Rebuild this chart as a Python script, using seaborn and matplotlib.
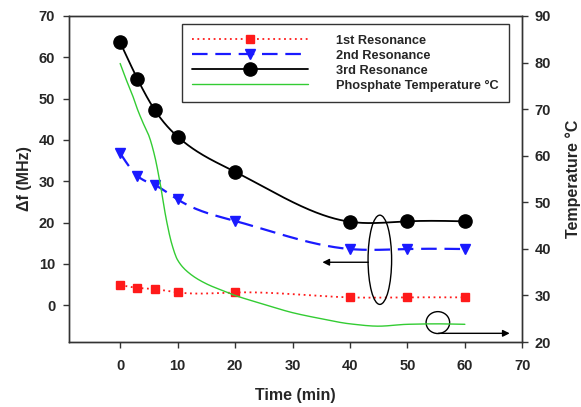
import numpy as np
import pandas as pd
import matplotlib
matplotlib.use("Agg")
import matplotlib.pyplot as plt
from matplotlib.lines import Line2D
from matplotlib.patches import Ellipse
import seaborn as sns

# Sampling times (min) and frequency shifts (MHz)
time_min = [0, 3, 6, 10, 20, 40, 50, 60]
res1 = [4.9, 4.2, 3.9, 3.1, 3.1, 1.9, 1.9, 1.9]
res2 = [36.8, 31.3, 29.1, 25.6, 20.4, 13.6, 13.6, 13.6]
res3 = [63.6, 54.8, 47.3, 40.8, 32.3, 20.2, 20.3, 20.3]

# Phosphate bath temperature log (min, °C)
temp_time = [0, 1, 2, 3, 4, 5, 6, 7, 8, 9, 10, 12, 15, 17.5, 20, 25, 30, 35, 40, 45, 50, 55, 60]
temp_c = [79.8, 76.5, 73.5, 70.0, 67.0, 64.3, 60.0, 53.8, 46.5, 41.0, 37.6, 34.8, 32.5,
          31.2, 30.0, 28.1, 26.3, 25.0, 23.9, 23.4, 23.8, 23.9, 23.8]

labels = ["1st Resonance", "2nd Resonance", "3rd Resonance", "Phosphate Temperature °C"]
x_ticks = [0, 10, 20, 30, 40, 50, 60, 70]
y_ticks = [0, 10, 20, 30, 40, 50, 60, 70]
t_ticks = [20, 30, 40, 50, 60, 70, 80, 90]


def natural_spline(x, y, n=300):
    """Smooth curve through (x, y) using a natural cubic spline."""
    x = np.asarray(x, float)
    y = np.asarray(y, float)
    k = len(x)
    h = np.diff(x)
    A = np.zeros((k, k))
    b = np.zeros(k)
    A[0, 0] = A[-1, -1] = 1.0
    for i in range(1, k - 1):
        A[i, i - 1] = h[i - 1]
        A[i, i] = 2 * (h[i - 1] + h[i])
        A[i, i + 1] = h[i]
        b[i] = 6 * ((y[i + 1] - y[i]) / h[i] - (y[i] - y[i - 1]) / h[i - 1])
    M = np.linalg.solve(A, b)
    xs = np.linspace(x[0], x[-1], n)
    idx = np.clip(np.searchsorted(x, xs) - 1, 0, k - 2)
    x0, x1 = x[idx], x[idx + 1]
    hh = x1 - x0
    ys = (M[idx] * (x1 - xs) ** 3 / (6 * hh) + M[idx + 1] * (xs - x0) ** 3 / (6 * hh)
          + (y[idx] / hh - M[idx] * hh / 6) * (x1 - xs)
          + (y[idx + 1] / hh - M[idx + 1] * hh / 6) * (xs - x0))
    return xs, ys


def pchip(x, y, n=400):
    """Shape-preserving (Fritsch-Carlson) cubic curve through (x, y)."""
    x = np.asarray(x, float)
    y = np.asarray(y, float)
    h = np.diff(x)
    d = np.diff(y) / h
    m = np.zeros_like(y)
    for i in range(1, len(x) - 1):
        if d[i - 1] * d[i] > 0:
            w1 = 2 * h[i] + h[i - 1]
            w2 = h[i] + 2 * h[i - 1]
            m[i] = (w1 + w2) / (w1 / d[i - 1] + w2 / d[i])
    m[0] = d[0]
    m[-1] = d[-1]
    xs = np.linspace(x[0], x[-1], n)
    idx = np.clip(np.searchsorted(x, xs) - 1, 0, len(x) - 2)
    t = (xs - x[idx]) / h[idx]
    h00 = 2 * t ** 3 - 3 * t ** 2 + 1
    h10 = t ** 3 - 2 * t ** 2 + t
    h01 = -2 * t ** 3 + 3 * t ** 2
    h11 = t ** 3 - t ** 2
    ys = h00 * y[idx] + h10 * h[idx] * m[idx] + h01 * y[idx + 1] + h11 * h[idx] * m[idx + 1]
    return xs, ys


sns.set_style("ticks")
plt.rcParams["font.family"] = ["Liberation Sans", "DejaVu Sans"]
plt.rcParams["font.weight"] = "bold"

fig = plt.figure(figsize=(5.81, 4.07), dpi=100)
ax = fig.add_axes([0.1188, 0.1597, 0.7802, 0.801])
ax2 = ax.twinx()

series = [
    (res1, "#ff1a1a", (0, (1, 2)), "s", 5.5, 1.3),
    (res2, "#1a1aff", (0, (7, 3.5)), "v", 6.5, 1.6),
    (res3, "black", "-", "o", 9.5, 1.3),
]
handles = []
for (vals, color, ls, mk, ms, lw), lab in zip(series, labels[:3]):
    xs, ys = natural_spline(time_min, vals)
    sns.lineplot(x=xs, y=ys, ax=ax, color=color, linestyle=ls, linewidth=lw,
                 sort=False, estimator=None)
    ax.plot(time_min, vals, linestyle="none", marker=mk, markersize=ms,
            color=color, markeredgecolor=color, zorder=5)
    handles.append(Line2D([], [], color=color, linestyle=ls, linewidth=lw,
                          marker=mk, markersize=ms, markeredgecolor=color))

tx, ty = pchip(temp_time, temp_c)
temp_df = pd.DataFrame({"t": tx, "T": ty})
sns.lineplot(data=temp_df, x="t", y="T", ax=ax2, color="#33cc33", linewidth=1.0,
             sort=False, estimator=None)
handles.append(Line2D([], [], color="#33cc33", linewidth=1.0))

ax.set_xlim(-8.9, 70)
ax.set_ylim(-8.9, 70)
ax2.set_ylim(20, 90)
ax.set_xticks(x_ticks)
ax.set_yticks(y_ticks)
ax2.set_yticks(t_ticks)

for a in (ax, ax2):
    for s in a.spines.values():
        s.set_visible(True)
        s.set_color("#333333")
        s.set_linewidth(1.0)
    a.tick_params(direction="out", length=4, width=1, color="#333333",
                  labelsize=10.5, pad=4)
    for lbl in a.get_xticklabels() + a.get_yticklabels():
        lbl.set_fontweight("bold")
ax.tick_params(axis="x", pad=8)
ax.tick_params(axis="y", pad=6)
ax2.tick_params(axis="y", pad=5)

ax.set_xlabel("Time (min)", fontsize=11.5, fontweight="bold", labelpad=11)
ax.set_ylabel("Δf (MHz)", fontsize=11.5, fontweight="bold", labelpad=5)
ax2.set_ylabel("Temperature °C", fontsize=11.5, fontweight="bold", labelpad=10)
ax2.grid(False)
ax.grid(False)

# Markers pointing out which axis each group of curves belongs to
ax.add_patch(Ellipse((45.2, 11.0), 4.1, 21.6, fill=False, edgecolor="black",
                     linewidth=1.0, zorder=6))
ax.annotate("", xy=(35.2, 10.4), xytext=(43.2, 10.4),
            arrowprops=dict(arrowstyle="-|>", color="black", lw=1.0,
                            mutation_scale=10, shrinkA=0, shrinkB=0))
ax.add_patch(Ellipse((55.3, -4.2), 4.1, 5.3, fill=False, edgecolor="black",
                     linewidth=1.0, zorder=6))
ax.annotate("", xy=(67.8, -6.8), xytext=(55.4, -6.8),
            arrowprops=dict(arrowstyle="-|>", color="black", lw=1.0,
                            mutation_scale=10, shrinkA=0, shrinkB=0))

leg = ax.legend(handles, labels, loc="upper left", bbox_to_anchor=(0.2486, 0.9745),
                borderaxespad=0, frameon=True, fancybox=False, handlelength=9.1,
                handletextpad=2.2, borderpad=0.8, labelspacing=0.24,
                prop={"size": 9.2, "weight": "bold"})
leg.get_frame().set_edgecolor("black")
leg.get_frame().set_linewidth(1.0)
leg.set_zorder(10)

fig.savefig("out.png", dpi=100)
